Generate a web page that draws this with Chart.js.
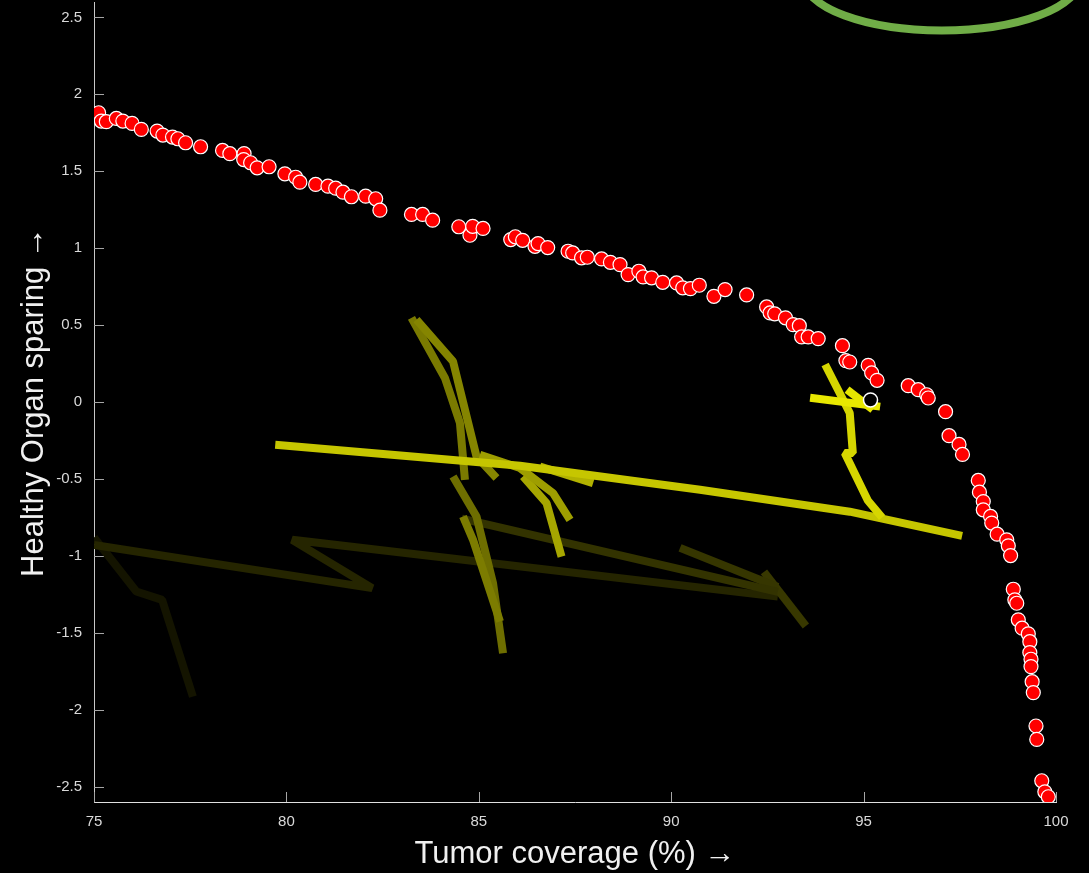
<!DOCTYPE html>
<html>
<head>
<meta charset="utf-8">
<script src="https://cdn.jsdelivr.net/npm/chart.js@4.4.0/dist/chart.umd.min.js"></script>
<style>
html, body { margin: 0; padding: 0; background: #000; }
#wrap { width: 1089px; height: 873px; }
</style>
</head>
<body>
<div id="wrap"><canvas id="chart" width="1089" height="873"></canvas></div>
<script>
// pareto front (red dots)
const frontX = [75.12,75.19,75.32,75.58,75.75,75.99,76.23,76.64,76.79,77.04,77.18,77.38,77.77,78.34,78.53,78.90,78.89,79.07,79.24,79.55,79.96,80.24,80.35,80.76,81.08,81.28,81.47,81.69,82.06,82.32,82.43,83.25,83.54,83.80,84.48,84.77,84.84,85.11,85.83,85.95,86.14,86.46,86.54,86.79,87.32,87.44,87.67,87.82,88.19,88.42,88.67,88.88,89.16,89.27,89.49,89.78,90.14,90.30,90.50,90.73,91.11,91.40,91.96,92.48,92.57,92.69,92.97,93.17,93.33,93.39,93.56,93.82,94.45,94.54,94.64,95.12,95.21,95.35,96.16,96.42,96.64,96.68,97.13,97.22,97.48,97.57,97.98,98.01,98.11,98.11,98.30,98.33,98.47,98.72,98.76,98.82,98.89,98.93,98.98,99.02,99.12,99.28,99.32,99.32,99.35,99.35,99.38,99.41,99.48,99.50,99.63,99.71,99.80];
const frontY = [1.880,1.826,1.822,1.843,1.826,1.811,1.772,1.761,1.735,1.722,1.711,1.685,1.659,1.635,1.614,1.615,1.576,1.555,1.522,1.529,1.483,1.461,1.429,1.414,1.403,1.390,1.364,1.334,1.338,1.321,1.247,1.219,1.219,1.182,1.139,1.084,1.142,1.128,1.056,1.074,1.051,1.012,1.030,1.004,0.980,0.969,0.937,0.941,0.930,0.908,0.893,0.828,0.850,0.813,0.807,0.778,0.774,0.742,0.737,0.759,0.687,0.731,0.696,0.618,0.579,0.573,0.547,0.503,0.496,0.423,0.423,0.412,0.366,0.269,0.260,0.238,0.189,0.141,0.106,0.080,0.047,0.026,-0.063,-0.219,-0.276,-0.341,-0.510,-0.586,-0.647,-0.701,-0.744,-0.787,-0.859,-0.896,-0.935,-0.998,-1.217,-1.286,-1.308,-1.416,-1.470,-1.507,-1.558,-1.629,-1.672,-1.720,-1.818,-1.889,-2.106,-2.193,-2.462,-2.534,-2.566];

// current plan (black dot)
const currentX = [95.18];
const currentY = [0.013];

// trajectories, newest (bright) to oldest (dark)
const crossBarX = [93.61, 95.43];
const crossBarY = [0.028, -0.030];
const crossDiagX = [94.57, 95.24];
const crossDiagY = [0.080, -0.050];
const crossStemX = [94.00, 94.44, 94.64, 94.72, 94.51, 95.11, 95.48];
const crossStemY = [0.244, 0.028, -0.072, -0.332, -0.332, -0.640, -0.751];
const longX = [79.71, 86.07, 90.75, 94.64, 97.56];
const longY = [-0.278, -0.414, -0.570, -0.713, -0.870];
const stubX = [86.59, 87.97];
const stubY = [-0.419, -0.527];
const branchAX = [85.03, 86.07, 86.93, 87.37];
const branchAY = [-0.343, -0.429, -0.592, -0.766];
const branchBX = [86.15, 86.76, 87.15];
const branchBY = [-0.484, -0.657, -1.005];
const stroke2X = [83.38, 84.33, 84.94, 85.46];
const stroke2Y = [0.535, 0.264, -0.354, -0.494];
const stroke1X = [83.25, 84.12, 84.51, 84.64];
const stroke1Y = [0.547, 0.156, -0.137, -0.506];
const lower2X = [84.59, 84.85, 85.55];
const lower2Y = [-0.744, -0.896, -1.427];
const lower1X = [84.33, 84.94, 85.37, 85.63];
const lower1Y = [-0.484, -0.744, -1.178, -1.633];
const segEX = [84.56, 92.77];
const segEY = [-0.758, -1.234];
const segFX = [90.23, 92.77];
const segFY = [-0.948, -1.202];
const segGX = [92.41, 93.50];
const segGY = [-1.104, -1.456];
const zigX = [75.00, 82.23, 80.15, 92.77];
const zigY = [-0.930, -1.210, -0.896, -1.265];
const oldX = [75.00, 76.10, 76.77, 77.57];
const oldY = [-0.880, -1.232, -1.286, -1.915];

// goal region (green ellipse), data units
const goalCenter = [97.03, 2.745];
const goalRadii = [3.57, 0.33];

const xTicks = [75, 80, 85, 90, 95, 100];
const yTicks = [-2.5, -2, -1.5, -1, -0.5, 0, 0.5, 1, 1.5, 2, 2.5];

function pts(xs, ys) {
  return xs.map((x, i) => ({x: x, y: ys[i]}));
}

function path(xs, ys, color) {
  return {
    data: pts(xs, ys),
    showLine: true,
    borderColor: color,
    borderWidth: 8,
    borderCapStyle: 'butt',
    borderJoinStyle: 'bevel',
    pointRadius: 0,
    fill: false,
    tension: 0
  };
}

const bgPlugin = {
  id: 'bg',
  beforeDraw(chart) {
    const ctx = chart.ctx;
    ctx.save();
    ctx.fillStyle = '#000';
    ctx.fillRect(0, 0, chart.width, chart.height);
    ctx.restore();
  }
};

// matlab style ticks pointing inward
const tickPlugin = {
  id: 'inTicks',
  beforeDatasetsDraw(chart) {
    const {ctx, chartArea, scales} = chart;
    ctx.save();
    ctx.strokeStyle = '#a6a6a6';
    ctx.lineWidth = 1;
    ctx.beginPath();
    scales.y.ticks.forEach(t => {
      const y = Math.round(scales.y.getPixelForValue(t.value)) + 0.5;
      ctx.moveTo(chartArea.left, y);
      ctx.lineTo(chartArea.left + 10, y);
    });
    scales.x.ticks.forEach(t => {
      const x = Math.round(scales.x.getPixelForValue(t.value)) + 0.5;
      ctx.moveTo(x, chartArea.bottom);
      ctx.lineTo(x, chartArea.bottom - 10);
    });
    ctx.stroke();
    ctx.restore();
  }
};

const ellipsePlugin = {
  id: 'goal',
  afterDraw(chart) {
    const {ctx, scales} = chart;
    const cx = scales.x.getPixelForValue(goalCenter[0]);
    const cy = scales.y.getPixelForValue(goalCenter[1]);
    const rx = scales.x.getPixelForValue(goalCenter[0] + goalRadii[0]) - cx;
    const ry = cy - scales.y.getPixelForValue(goalCenter[1] + goalRadii[1]);
    ctx.save();
    ctx.strokeStyle = '#70ad47';
    ctx.lineWidth = 8;
    ctx.beginPath();
    ctx.ellipse(cx, cy, rx, ry, 0, 0, Math.PI * 2);
    ctx.stroke();
    ctx.restore();
  }
};

const tickFont = {family: "'Liberation Sans', Arial, sans-serif", size: 15};
const titleFont = {family: "'Liberation Sans', Arial, sans-serif", size: 31};

new Chart(document.getElementById('chart'), {
  type: 'scatter',
  data: {
    datasets: [
      {
        data: pts(currentX, currentY),
        pointRadius: 7,
        backgroundColor: '#000',
        borderColor: '#fff',
        borderWidth: 1.5
      },
      {
        data: pts(frontX, frontY),
        pointRadius: 7,
        backgroundColor: '#ff0000',
        borderColor: '#fff',
        borderWidth: 1.2
      },
      path(crossBarX, crossBarY, '#e8e800'),
      path(crossDiagX, crossDiagY, '#e6e600'),
      path(crossStemX, crossStemY, '#d6d600'),
      path(longX, longY, '#c6c600'),
      path(stubX, stubY, '#b2b200'),
      path(branchAX, branchAY, '#9e9e00'),
      path(branchBX, branchBY, '#a6a600'),
      path(stroke2X, stroke2Y, '#858500'),
      path(stroke1X, stroke1Y, '#7a7a00'),
      path(lower2X, lower2Y, '#7c7c00'),
      path(lower1X, lower1Y, '#6e6e00'),
      path(segEX, segEY, '#333300'),
      path(segFX, segFY, '#363600'),
      path(segGX, segGY, '#383800'),
      path(zigX, zigY, '#252500'),
      path(oldX, oldY, '#141400')
    ]
  },
  options: {
    responsive: false,
    animation: false,
    devicePixelRatio: 1,
    layout: {autoPadding: false, padding: {top: 2, right: 33, left: 0, bottom: 0}},
    plugins: {legend: {display: false}, tooltip: {enabled: false}},
    scales: {
      x: {
        type: 'linear',
        min: 75,
        max: 100,
        afterBuildTicks: s => { s.ticks = xTicks.map(v => ({value: v})); },
        afterFit: s => { s.height = 71; s.paddingLeft = 0; s.paddingRight = 0; },
        grid: {display: false},
        border: {display: true, color: '#e0e0e0', width: 1},
        ticks: {color: '#d9d9d9', font: tickFont, padding: 3, maxRotation: 0, callback: v => String(v)},
        title: {display: true, text: 'Tumor coverage (%) \u2192', color: '#f0f0f0', font: titleFont, padding: {top: 0, bottom: 0}}
      },
      y: {
        type: 'linear',
        min: -2.6,
        max: 2.6,
        afterBuildTicks: s => { s.ticks = yTicks.map(v => ({value: v})); },
        afterFit: s => { s.width = 94; s.paddingTop = 0; s.paddingBottom = 0; },
        grid: {display: false},
        border: {display: true, color: '#c8c8c8', width: 1},
        ticks: {color: '#d9d9d9', font: tickFont, padding: 4, callback: v => String(v)},
        title: {display: true, text: 'Healthy Organ sparing \u2192', color: '#f0f0f0', font: titleFont, padding: {top: 16, bottom: 0}}
      }
    }
  },
  plugins: [bgPlugin, tickPlugin, ellipsePlugin]
});
</script>
</body>
</html>
